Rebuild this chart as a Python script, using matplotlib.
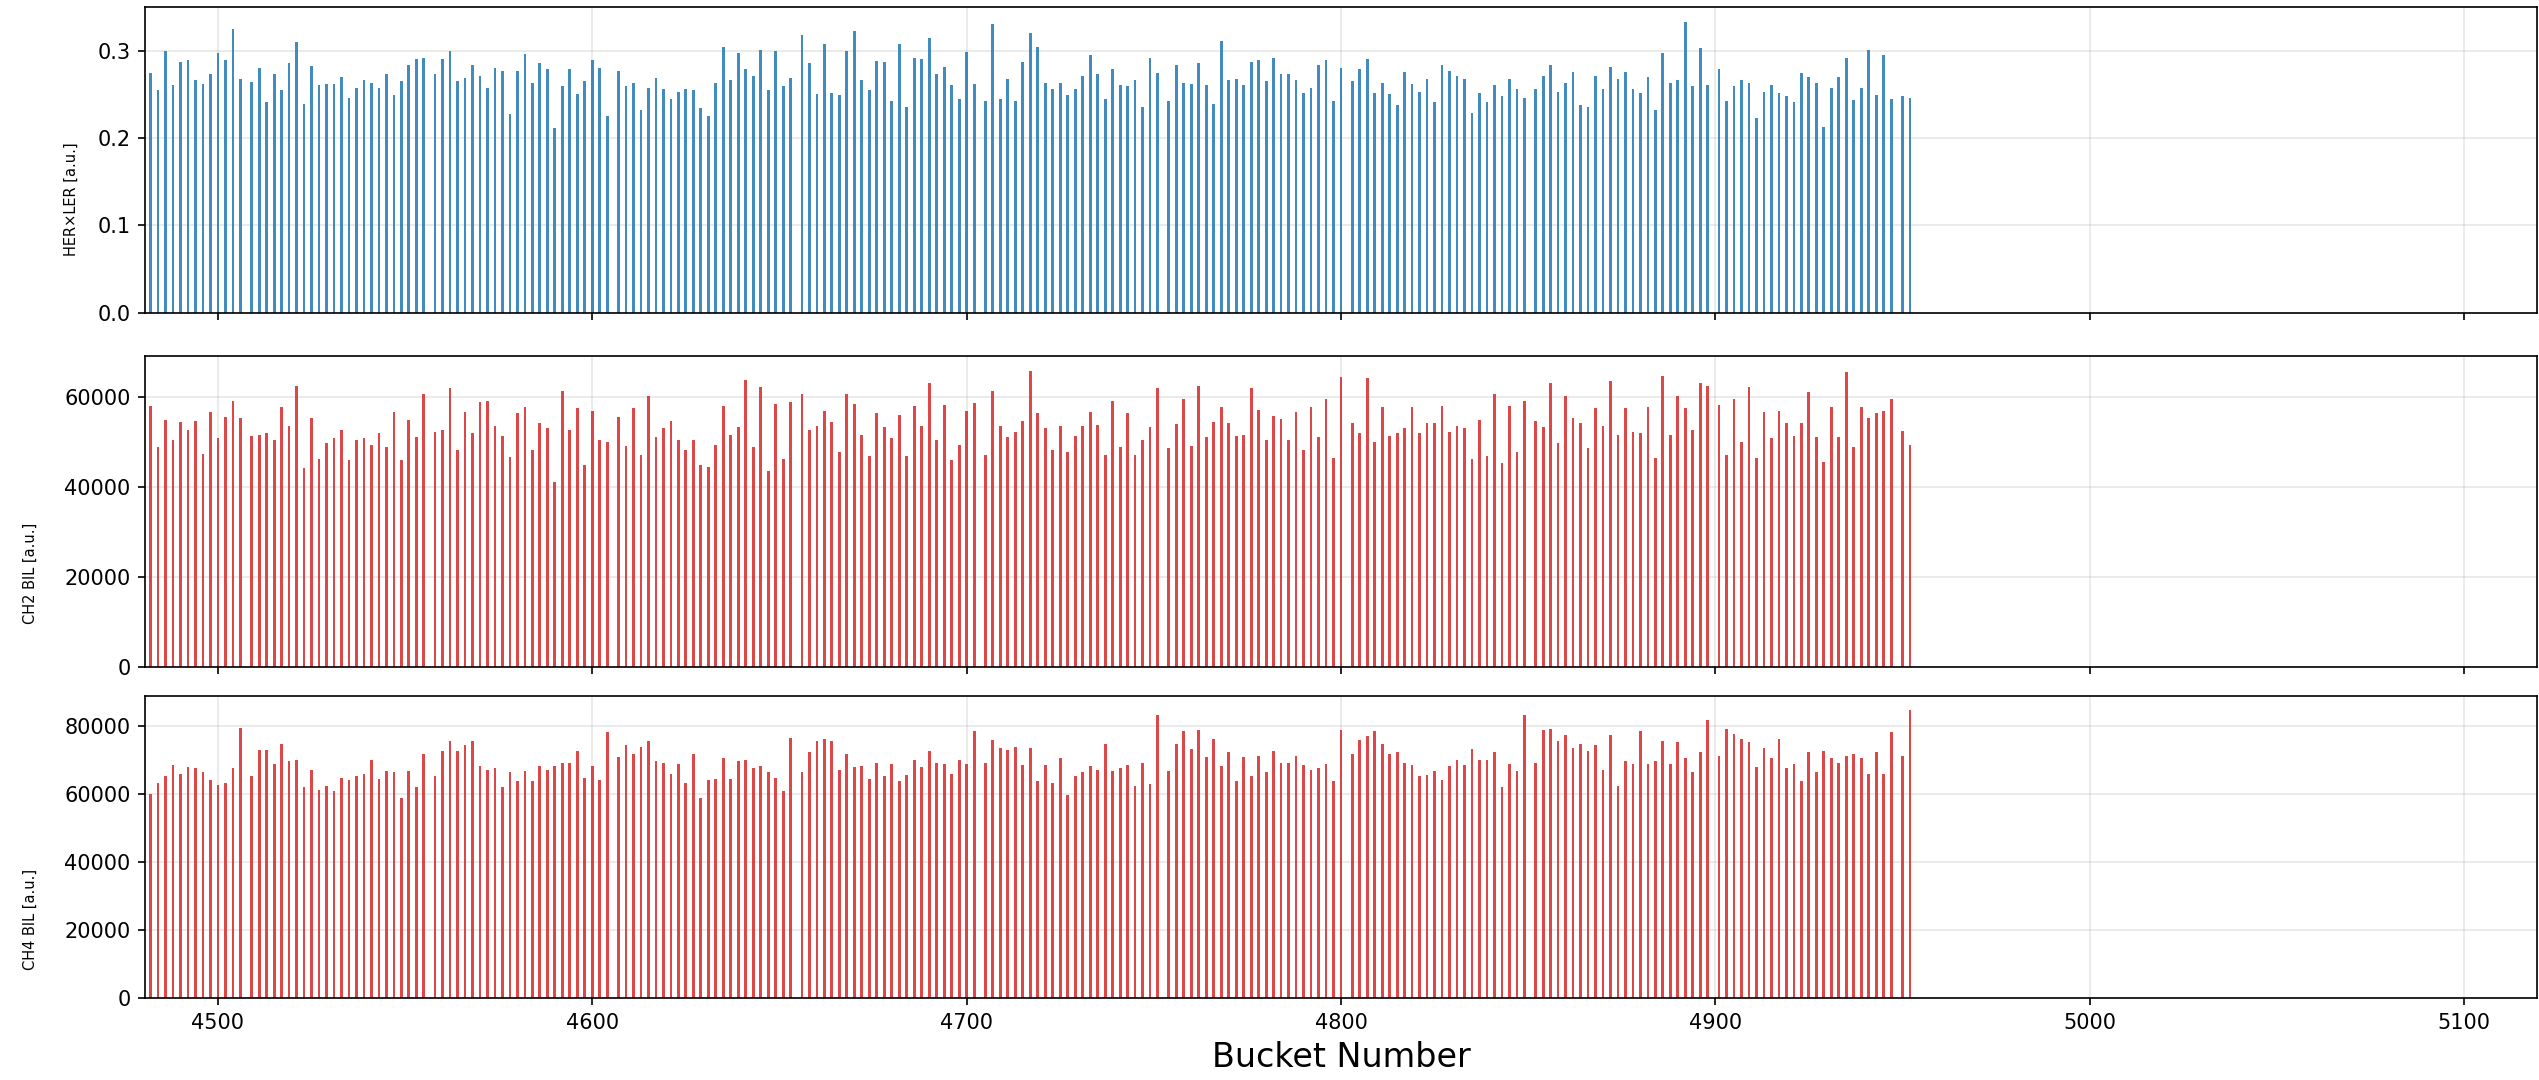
import numpy as np
import matplotlib
matplotlib.use("Agg")
import matplotlib.pyplot as plt
from matplotlib.ticker import MultipleLocator

# bucket numbers of the filled bunches
buckets = [
    4482, 4484, 4486, 4488, 4490, 4492, 4494, 4496, 4498, 4500, 4502, 4504, 4506,
    4509, 4511, 4513, 4515, 4517, 4519, 4521, 4523, 4525, 4527, 4529, 4531,
    4533, 4535, 4537, 4539, 4541, 4543, 4545, 4547, 4549, 4551, 4553, 4555,
    4558, 4560, 4562, 4564, 4566, 4568, 4570, 4572, 4574, 4576, 4578, 4580,
    4582, 4584, 4586, 4588, 4590, 4592, 4594, 4596, 4598, 4600, 4602, 4604,
    4607, 4609, 4611, 4613, 4615, 4617, 4619, 4621, 4623, 4625, 4627, 4629,
    4631, 4633, 4635, 4637, 4639, 4641, 4643, 4645, 4647, 4649, 4651, 4653,
    4656, 4658, 4660, 4662, 4664, 4666, 4668, 4670, 4672, 4674, 4676, 4678,
    4680, 4682, 4684, 4686, 4688, 4690, 4692, 4694, 4696, 4698, 4700, 4702,
    4705, 4707, 4709, 4711, 4713, 4715, 4717, 4719, 4721, 4723, 4725, 4727,
    4729, 4731, 4733, 4735, 4737, 4739, 4741, 4743, 4745, 4747, 4749, 4751,
    4754, 4756, 4758, 4760, 4762, 4764, 4766, 4768, 4770, 4772, 4774, 4776,
    4778, 4780, 4782, 4784, 4786, 4788, 4790, 4792, 4794, 4796, 4798, 4800,
    4803, 4805, 4807, 4809, 4811, 4813, 4815, 4817, 4819, 4821, 4823, 4825,
    4827, 4829, 4831, 4833, 4835, 4837, 4839, 4841, 4843, 4845, 4847, 4849,
    4852, 4854, 4856, 4858, 4860, 4862, 4864, 4866, 4868, 4870, 4872, 4874,
    4876, 4878, 4880, 4882, 4884, 4886, 4888, 4890, 4892, 4894, 4896, 4898,
    4901, 4903, 4905, 4907, 4909, 4911, 4913, 4915, 4917, 4919, 4921, 4923,
    4925, 4927, 4929, 4931, 4933, 4935, 4937, 4939, 4941, 4943, 4945, 4947,
    4950, 4952,
]

her_ler = [
    0.274, 0.255, 0.299, 0.261, 0.287, 0.289, 0.266, 0.262, 0.273, 0.297, 0.289, 0.325, 0.267,
    0.264, 0.280, 0.241, 0.273, 0.255, 0.286, 0.310, 0.239, 0.282, 0.261, 0.262, 0.262,
    0.270, 0.246, 0.257, 0.266, 0.263, 0.257, 0.273, 0.249, 0.265, 0.284, 0.290, 0.292,
    0.273, 0.290, 0.300, 0.265, 0.269, 0.283, 0.271, 0.257, 0.280, 0.277, 0.227, 0.277,
    0.296, 0.263, 0.286, 0.279, 0.211, 0.259, 0.279, 0.250, 0.265, 0.289, 0.280, 0.225,
    0.277, 0.259, 0.263, 0.232, 0.257, 0.269, 0.256, 0.245, 0.253, 0.256, 0.255, 0.234,
    0.225, 0.263, 0.304, 0.266, 0.297, 0.279, 0.271, 0.301, 0.255, 0.300, 0.259, 0.269,
    0.318, 0.286, 0.250, 0.308, 0.252, 0.249, 0.300, 0.323, 0.266, 0.255, 0.288, 0.287,
    0.242, 0.308, 0.235, 0.291, 0.290, 0.315, 0.273, 0.281, 0.261, 0.245, 0.298, 0.262,
    0.242, 0.330, 0.245, 0.267, 0.242, 0.287, 0.320, 0.304, 0.263, 0.256, 0.263, 0.249,
    0.256, 0.271, 0.295, 0.273, 0.245, 0.279, 0.261, 0.259, 0.266, 0.236, 0.291, 0.274,
    0.242, 0.283, 0.263, 0.262, 0.286, 0.261, 0.239, 0.311, 0.266, 0.267, 0.261, 0.287,
    0.289, 0.265, 0.291, 0.273, 0.273, 0.266, 0.252, 0.257, 0.284, 0.289, 0.242, 0.280,
    0.265, 0.279, 0.290, 0.252, 0.263, 0.250, 0.238, 0.276, 0.262, 0.253, 0.267, 0.241,
    0.284, 0.277, 0.271, 0.267, 0.229, 0.252, 0.241, 0.261, 0.248, 0.267, 0.256, 0.246,
    0.256, 0.271, 0.283, 0.253, 0.263, 0.276, 0.238, 0.235, 0.271, 0.256, 0.281, 0.267,
    0.276, 0.256, 0.252, 0.270, 0.232, 0.297, 0.263, 0.266, 0.333, 0.259, 0.303, 0.261,
    0.279, 0.242, 0.259, 0.266, 0.263, 0.223, 0.253, 0.261, 0.252, 0.248, 0.241, 0.274,
    0.270, 0.263, 0.213, 0.257, 0.270, 0.292, 0.244, 0.257, 0.301, 0.249, 0.295, 0.245,
    0.248, 0.246,
]

ch2_bil = [
    58000, 48800, 54900, 50300, 54500, 52700, 54600, 47200, 56600, 50800, 55500, 59000, 55200,
    51400, 51600, 51900, 50300, 57700, 53600, 62400, 44200, 55200, 46100, 49700, 50800,
    52700, 45900, 50500, 50800, 49400, 51900, 48800, 56600, 45900, 54900, 51100, 60500,
    52200, 52700, 61900, 48100, 56600, 51900, 58800, 59000, 53600, 51400, 46600, 56400,
    57700, 48100, 54200, 53000, 41100, 61300, 52700, 57500, 44900, 56800, 50500, 50000,
    55400, 49000, 57400, 47100, 60200, 51000, 53000, 54600, 50500, 48300, 50500, 44900,
    44500, 49400, 58000, 51600, 53200, 63800, 48800, 62200, 43600, 58500, 46100, 58800,
    60500, 52700, 53600, 56800, 54400, 47800, 60700, 58500, 51600, 46800, 56300, 53200,
    50800, 56000, 46800, 58000, 53600, 63000, 50300, 58200, 45900, 49400, 56800, 58600,
    47100, 61300, 53600, 51100, 52200, 54600, 65800, 56300, 53000, 48100, 53600, 47800,
    51400, 53600, 56600, 53800, 47100, 59000, 48800, 56300, 47100, 50500, 53300, 61900,
    48600, 53900, 59600, 49100, 62400, 51100, 54500, 57700, 54200, 51400, 51600, 61900,
    57100, 50500, 55800, 55000, 50500, 56600, 48100, 57700, 51100, 59600, 46400, 64400,
    54200, 52000, 64100, 50000, 57700, 51400, 52000, 53000, 57700, 52000, 54200, 54200,
    58000, 52200, 53600, 53000, 46100, 54900, 46900, 60700, 45200, 58000, 47800, 59000,
    54700, 53300, 63000, 49700, 60200, 55200, 54200, 48600, 57400, 53600, 63600, 51600,
    57400, 52200, 51900, 57700, 46400, 64600, 51600, 60200, 57400, 52700, 63000, 62400,
    58200, 47100, 59600, 50000, 62200, 46400, 56600, 50900, 56800, 54200, 51400, 54200,
    61000, 51100, 45500, 57700, 51100, 65400, 48800, 57700, 55200, 56400, 56800, 59600,
    52500, 49400,
]

ch4_bil = [
    60200, 63400, 65300, 68600, 66000, 67900, 67600, 66400, 64200, 62800, 63400, 67600, 79500,
    65300, 73100, 73100, 68900, 74800, 69700, 70000, 62100, 67100, 61300, 62400, 60900,
    64900, 64200, 65300, 66000, 70000, 64600, 66800, 66400, 59000, 66800, 62100, 71900,
    65300, 72700, 75500, 72700, 74400, 75500, 68200, 67200, 67600, 62100, 66400, 63800,
    66800, 63800, 68200, 67200, 68200, 69300, 69300, 72700, 64900, 68200, 64200, 78200,
    70800, 74400, 71900, 74000, 75500, 69700, 69300, 66000, 68900, 63400, 71900, 59000,
    64200, 64600, 70500, 64600, 69700, 70000, 67600, 68200, 66400, 64900, 60900, 76600,
    66400, 72300, 75500, 76300, 75500, 67200, 71900, 67900, 68200, 64600, 69300, 65300,
    68900, 63800, 65700, 70000, 67900, 72700, 69300, 68900, 66000, 70000, 68900, 78600,
    69300, 75900, 73700, 73100, 74000, 68600, 73700, 63800, 68500, 63400, 70500, 59800,
    65300, 66400, 68200, 67200, 74800, 66800, 67600, 68500, 62400, 69300, 63100, 83300,
    66800, 74800, 78500, 73400, 78900, 70800, 76300, 68200, 72300, 63800, 70800, 65300,
    71200, 66400, 72700, 69300, 69300, 71200, 68600, 67200, 67600, 68900, 63800, 78900,
    71900, 75900, 77000, 78500, 74800, 71900, 72300, 69300, 68500, 65300, 65700, 66800,
    64200, 68200, 70000, 68500, 73400, 70000, 70000, 72300, 62100, 68900, 66800, 83300,
    69300, 78900, 79100, 75500, 77400, 73700, 74800, 72700, 74400, 67200, 77400, 62400,
    69700, 68900, 78500, 68900, 69700, 75500, 68900, 75200, 70500, 66400, 72300, 81700,
    71200, 79100, 77800, 76300, 75200, 67900, 73700, 70500, 76300, 67600, 68900, 63800,
    72300, 66400, 72700, 70500, 69300, 71200, 71900, 70500, 66000, 72300, 66000, 78200,
    71200, 84700,
]

xticks = [4500, 4600, 4700, 4800, 4900, 5000, 5100]

panels = [
    (her_ler, 'HER×LER [a.u.]', 'tab:blue', 0.1),
    (ch2_bil, 'CH2 BIL [a.u.]', 'tab:red', 20000),
    (ch4_bil, 'CH4 BIL [a.u.]', 'tab:red', 20000),
]

# axes boxes [left, bottom, width, height] in figure fraction
boxes = [
    [0.0571, 0.7105, 0.9421, 0.2828],
    [0.0571, 0.3821, 0.9421, 0.2885],
    [0.0571, 0.0756, 0.9421, 0.2802],
]
# where the y labels sit, in axes coordinates
label_xy = [(-0.0276, 0.37), (-0.045, 0.30), (-0.045, 0.26)]

fig = plt.figure(figsize=(2539 / 150, 1080 / 150), dpi=150)

axes = []
for i, (vals, label, col, ystep) in enumerate(panels):
    ax = fig.add_axes(boxes[i], sharex=axes[0] if axes else None)
    ax.bar(buckets, vals, width=0.75, color=col, alpha=0.85)
    ax.set_ylabel(label, fontsize=7)
    ax.yaxis.set_label_coords(*label_xy[i])
    ax.yaxis.set_major_locator(MultipleLocator(ystep))
    ax.grid(True, alpha=0.3)
    ax.set_axisbelow(True)
    if i < 2:
        ax.tick_params(labelbottom=False)
    axes.append(ax)

axes[0].set_xlim(4480.5, 5119.5)
axes[0].set_xticks(xticks)
axes[-1].set_xlabel('Bucket Number', fontsize=16)

fig.savefig('out.png', dpi=150)
